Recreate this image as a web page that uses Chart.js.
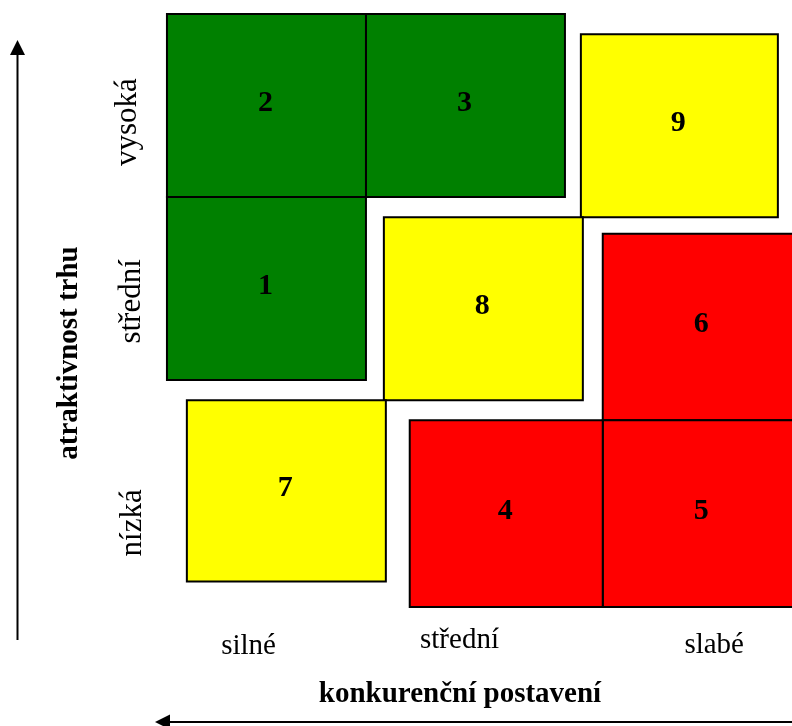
<!DOCTYPE html>
<html lang="cs">
<head>
<meta charset="utf-8">
<title>Matice atraktivnost trhu / konkurenční postavení</title>
<script src="https://cdn.jsdelivr.net/npm/chart.js@4"></script>
<style>
  html, body { margin: 0; padding: 0; background: #ffffff; }
  canvas { display: block; }
</style>
</head>
<body>
<canvas id="matrix" width="792" height="726"></canvas>
<script>
// Popisky os a kategorií
const rowLabels = ['nízká', 'střední', 'vysoká'];
const colLabels = ['silné', 'střední', 'slabé'];
const yTitle = 'atraktivnost trhu';
const xTitle = 'konkurenční postavení';

// Pole matice: číslo, zóna a hranice v jednotkách mřížky
// (x = konkurenční postavení, y = atraktivnost trhu, 1 jednotka = jedno pole)
const cellIds   = ['1', '2', '3', '4', '5', '6', '7', '8', '9'];
const cellZones = ['green', 'green', 'green', 'red', 'red', 'red', 'yellow', 'yellow', 'yellow'];
const cellX0 = [0.00, 0.00, 1.00, 1.22, 2.19, 2.19, 0.10, 1.09, 2.08];
const cellX1 = [1.00, 1.00, 2.00, 2.19, 3.19, 3.19, 1.10, 2.09, 3.07];
const cellY0 = [1.24, 2.24, 2.24, 0.00, 0.00, 1.02, 0.14, 1.13, 2.13];
const cellY1 = [2.24, 3.24, 3.24, 1.02, 1.02, 2.04, 1.13, 2.13, 3.13];

const zoneColor = { green: '#008000', yellow: '#ffff00', red: '#ff0000' };

// Každé pole jako uzavřený obrys vyplněný uvnitř
const datasets = cellIds.map((id, i) => ({
  label: id,
  data: [
    { x: cellX0[i], y: cellY0[i] },
    { x: cellX1[i], y: cellY0[i] },
    { x: cellX1[i], y: cellY1[i] },
    { x: cellX0[i], y: cellY1[i] },
    { x: cellX0[i], y: cellY0[i] },
    { x: cellX1[i], y: cellY0[i] }
  ],
  showLine: true,
  fill: 'shape',
  backgroundColor: zoneColor[cellZones[i]],
  borderColor: '#000000',
  borderWidth: 2,
  borderJoinStyle: 'miter',
  tension: 0,
  pointRadius: 0,
  pointHoverRadius: 0
}));

const serif = '"Liberation Serif", "Times New Roman", serif';

// Čísla polí, popisky řádků/sloupců, názvy os a šipky
const matrixText = {
  id: 'matrixText',
  afterDatasetsDraw(chart) {
    const { ctx, scales: { x, y } } = chart;
    ctx.save();
    ctx.fillStyle = '#000000';
    ctx.textBaseline = 'alphabetic';
    ctx.textAlign = 'center';

    // čísla uprostřed polí
    ctx.font = 'bold 30px ' + serif;
    cellIds.forEach((id, i) => {
      const cx = x.getPixelForValue((cellX0[i] + cellX1[i]) / 2);
      const cy = y.getPixelForValue((cellY0[i] + cellY1[i]) / 2);
      ctx.fillText(id, cx - 1, cy + 5);
    });

    // popisky řádků (svisle)
    const rowCenterY = [0.46, 1.67, 2.65];
    const rowBaseX = [141, 140, 136];
    ctx.font = '31px ' + serif;
    rowLabels.forEach((t, i) => {
      ctx.save();
      ctx.translate(rowBaseX[i], y.getPixelForValue(rowCenterY[i]));
      ctx.rotate(-Math.PI / 2);
      ctx.fillText(t, 0, 0);
      ctx.restore();
    });

    // popisky sloupců
    const colCenterX = [0.41, 1.47, 2.75];
    const colBaseY = [654, 648, 653];
    ctx.font = '29px ' + serif;
    colLabels.forEach((t, i) => {
      ctx.fillText(t, x.getPixelForValue(colCenterX[i]), colBaseY[i]);
    });

    // názvy os
    ctx.font = 'bold 29px ' + serif;
    ctx.fillText(xTitle, 460, 702);
    ctx.save();
    ctx.translate(77, 353);
    ctx.rotate(-Math.PI / 2);
    ctx.fillText(yTitle, 0, 0);
    ctx.restore();

    // šipky
    ctx.strokeStyle = '#000000';
    ctx.lineWidth = 2;
    ctx.beginPath();
    ctx.moveTo(17.5, 640);
    ctx.lineTo(17.5, 52);
    ctx.moveTo(792, 722);
    ctx.lineTo(166, 722);
    ctx.stroke();
    ctx.beginPath();
    ctx.moveTo(17.5, 40);
    ctx.lineTo(10, 55);
    ctx.lineTo(25, 55);
    ctx.closePath();
    ctx.fill();
    ctx.beginPath();
    ctx.moveTo(155, 722);
    ctx.lineTo(170, 714.5);
    ctx.lineTo(170, 729.5);
    ctx.closePath();
    ctx.fill();
    ctx.restore();
  }
};

new Chart(document.getElementById('matrix'), {
  type: 'scatter',
  data: { datasets },
  options: {
    responsive: false,
    animation: false,
    devicePixelRatio: 1,
    layout: { padding: 0 },
    plugins: {
      legend: { display: false },
      tooltip: { enabled: false },
      title: { display: false }
    },
    events: [],
    scales: {
      x: { type: 'linear', display: false, min: -0.839, max: 3.141 },
      y: { type: 'linear', display: false, min: -0.650, max: 3.317 }
    }
  },
  plugins: [matrixText]
});
</script>
</body>
</html>
